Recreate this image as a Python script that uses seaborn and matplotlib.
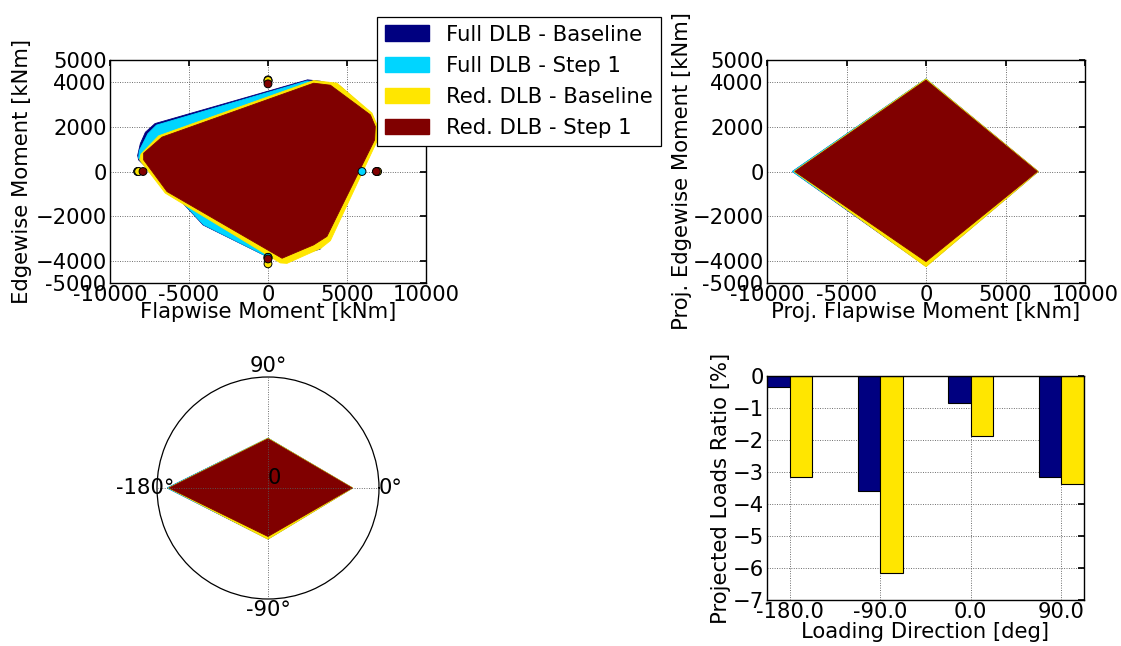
import numpy as np
import pandas as pd
import matplotlib
matplotlib.use("Agg")
import matplotlib.pyplot as plt
import seaborn as sns
from matplotlib.patches import Patch

# ---------------- data ----------------
series_names = ["Full DLB - Baseline", "Full DLB - Step 1",
                "Red. DLB - Baseline", "Red. DLB - Step 1"]

# load envelopes (flapwise, edgewise) [kNm]
full_base_flap = [2500, 3300, 4550, 6550, 6860, 6800, 3700, 3300, 900, 0, -4100, -5650, -8190, -8250, -8080, -7760, -7150]
full_base_edge = [4110, 4050, 3830, 2580, 2020, 1420, -3000, -3480, -3960, -3840, -2400, -1220, 520, 720, 1250, 1760, 2150]

full_step1_flap = [2470, 3300, 4500, 6500, 6850, 6780, 3700, 3300, 900, -60, -4070, -5650, -8190, -8150, -7600, -7060]
full_step1_edge = [4060, 4000, 3800, 2560, 2020, 1420, -3000, -3450, -3940, -3810, -2390, -1200, 600, 930, 1700, 2080]

red_base_flap = [2890, 4370, 6580, 6940, 6940, 3950, 3350, 1200, 780, -6500, -8120, -8040, -6920]
red_base_edge = [4080, 3960, 2620, 2020, 1420, -3100, -3440, -4120, -4100, -970, 520, 780, 1600]

red_step1_flap = [2890, 3950, 6480, 6790, 6750, 3730, 2890, 890, -6390, -7870, -7870, -6710]
red_step1_edge = [3960, 3870, 2540, 2020, 1420, -2910, -3290, -3890, -900, 520, 820, 1540]

# extreme points marked on the axes: [+flap, +edge, -flap, -edge]
full_base_ext = [6900, 4110, -8250, -3850]
full_step1_ext = [5950, 4050, -8230, -3850]
red_base_ext = [6940, 4080, -8190, -4140]
red_step1_ext = [6860, 3930, -7910, -3920]

# projected envelopes: [+flap, +edge, -flap, -edge]
full_base_proj = [7060, 4150, -8400, -4250]
full_step1_proj = [7000, 4150, -8400, -4200]
red_base_proj = [7060, 4150, -8300, -4270]
red_step1_proj = [7000, 4100, -8250, -4040]

# projected loads ratio [%]
directions = ["-180.0", "-90.0", "0.0", "90.0"]
ratio_full = [-0.33, -3.59, -0.85, -3.17]
ratio_red = [-3.15, -6.17, -1.89, -3.375]

# ---------------- style ----------------
sns.set_theme(style="white")
FS = 15.2
plt.rcParams.update({
    "font.family": ["DejaVu Sans"],
    "font.size": FS,
    "text.color": "black",
    "axes.edgecolor": "black",
    "axes.linewidth": 1.0,
    "axes.labelcolor": "black",
    "xtick.color": "black",
    "ytick.color": "black",
    "xtick.direction": "in",
    "ytick.direction": "in",
    "xtick.major.size": 4,
    "ytick.major.size": 4,
    "xtick.major.pad": 1.5,
    "ytick.major.pad": 2.5,
    "xtick.labelsize": FS,
    "ytick.labelsize": FS,
    "axes.labelsize": FS,
    "legend.labelcolor": "black",
    "grid.color": "0.35",
    "grid.linestyle": ":",
    "grid.linewidth": 0.65,
})

jet = matplotlib.colormaps["jet"]
colors = [jet(0.0), jet(1 / 3), jet(2 / 3), jet(1.0)]
palette = dict(zip(series_names, colors))

fig = plt.figure(figsize=(11.21, 6.46), dpi=100)
W, H = 1121.0, 646.0

def rect(l, t, r, b):
    return [l / W, 1 - b / H, (r - l) / W, (b - t) / H]

ax1 = fig.add_axes(rect(110, 60, 426, 283))
ax2 = fig.add_axes(rect(767, 60, 1085, 283))
ax3 = fig.add_axes(rect(157, 377, 379, 599), projection="polar")
ax4 = fig.add_axes(rect(767, 376, 1084, 600))

# ---------------- top-left: load envelopes ----------------
polys = [(full_base_flap, full_base_edge), (full_step1_flap, full_step1_edge),
         (red_base_flap, red_base_edge), (red_step1_flap, red_step1_edge)]
for (fx, fy), c in zip(polys, colors):
    ax1.fill(fx, fy, color=c, lw=0.6, zorder=2)

ext_all = [full_base_ext, full_step1_ext, red_base_ext, red_step1_ext]
rows = []
for name, e in zip(series_names, ext_all):
    rows += [(name, e[0], 0), (name, 0, e[1]), (name, e[2], 0), (name, 0, e[3])]
ext_df = pd.DataFrame(rows, columns=["series", "flap", "edge"])
sns.scatterplot(data=ext_df, x="flap", y="edge", hue="series", palette=palette,
                s=32, edgecolor="black", linewidth=0.7, legend=False, ax=ax1, zorder=4)

xt = [-10000, -5000, 0, 5000, 10000]
xtl = ["-10000", "-5000", "0", "5000", "10000"]
yt = [-5000, -4000, -2000, 0, 2000, 4000, 5000]
ytl = ["-5000", "\u22124000", "\u22122000", "0", "2000", "4000", "5000"]
for ax in (ax1, ax2):
    ax.set_xlim(-10000, 10000)
    ax.set_ylim(-5000, 5000)
    ax.set_xticks(xt)
    ax.set_xticklabels(xtl)
    ax.set_yticks(yt)
    ax.set_yticklabels(ytl)
    ax.grid(True)
    ax.set_axisbelow(True)
    ax.tick_params(top=True, right=True)

ax1.set_xlabel("Flapwise Moment [kNm]", labelpad=-2)
ax1.set_ylabel("Edgewise Moment [kNm]", labelpad=2)

# ---------------- top-right: projected envelopes ----------------
proj_all = [full_base_proj, full_step1_proj, red_base_proj, red_step1_proj]
for p, c in zip(proj_all, colors):
    px = [p[0], 0, p[2], 0]
    py = [0, p[1], 0, p[3]]
    ax2.fill(px, py, color=c, lw=0.6, zorder=2)
ax2.set_xlabel("Proj. Flapwise Moment [kNm]", labelpad=-2)
ax2.set_ylabel("Proj. Edgewise Moment [kNm]", labelpad=0)

# ---------------- bottom-left: polar ----------------
theta = np.deg2rad([0, 90, 180, 270])
for p, c in zip(proj_all, colors):
    r = np.abs(p)
    ax3.fill(theta, r, color=c, lw=0.6, zorder=2)
ax3.set_ylim(0, 9250)
ax3.set_yticks([])
ax3.set_thetagrids([0, 90, 180, 270], labels=["0\u00b0", "90\u00b0", "-180\u00b0", "-90\u00b0"])
ax3.tick_params(axis="x", pad=1.2, labelsize=FS)
ax3.xaxis.grid(True)
ax3.set_axisbelow(False)
for gl in ax3.xaxis.get_gridlines():
    gl.set_zorder(3)
ax3.spines["polar"].set_linewidth(0.9)
ax3.text(0, 0, "0", ha="left", va="bottom", fontsize=FS, color="black", zorder=10)

# ---------------- bottom-right: bars ----------------
bar_df = pd.DataFrame({
    "direction": directions * 2,
    "ratio": ratio_full + ratio_red,
    "group": ["Full DLB"] * 4 + ["Red. DLB"] * 4,
})
sns.barplot(data=bar_df, x="direction", y="ratio", hue="group", order=directions,
            palette=[colors[0], colors[2]], width=0.5, saturation=1,
            edgecolor="black", linewidth=0.8, errorbar=None, legend=False, ax=ax4)
ax4.set_xlim(-0.25, 3.25)
ax4.set_ylim(-7, 0)
ax4.set_yticks(range(-7, 1))
ax4.grid(True)
ax4.set_axisbelow(True)
ax4.tick_params(top=True, right=True)
ax4.set_xlabel("Loading Direction [deg]", labelpad=0)
ax4.set_ylabel("Projected Loads Ratio [%]", labelpad=1)

# ---------------- legend ----------------
handles = [Patch(facecolor=c, edgecolor=c) for c in colors]
leg = fig.legend(handles, series_names, loc="upper left",
                 bbox_to_anchor=(377 / W, 1 - 16.5 / H), frameon=True, fancybox=False,
                 shadow=False, framealpha=1, edgecolor="black", fontsize=FS,
                 handlelength=2.1, handleheight=0.75, handletextpad=0.8,
                 labelspacing=0.53, borderpad=0.38, borderaxespad=0)
leg.get_frame().set_linewidth(0.9)
for t in leg.get_texts():
    t.set_color("black")

fig.savefig("out.png", dpi=100)
